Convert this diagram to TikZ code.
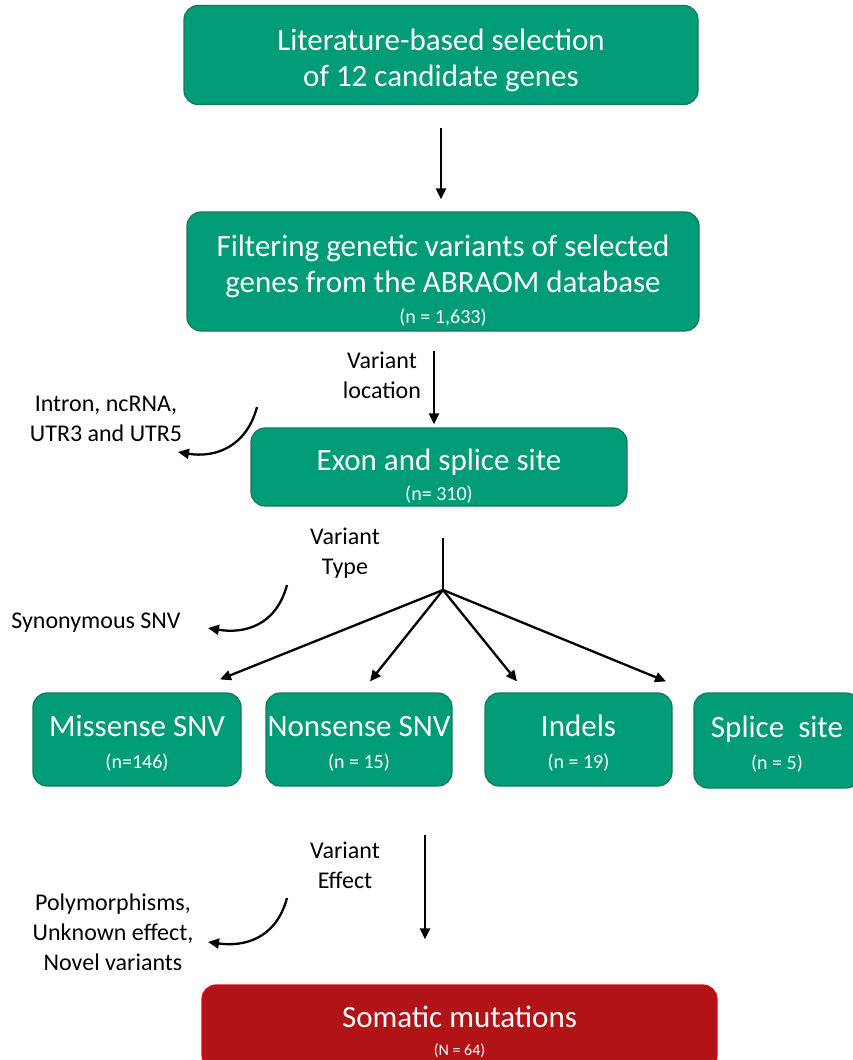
\documentclass[tikz,border=0pt]{standalone}
\usepackage{fontspec}
\setmainfont{Carlito}
\usetikzlibrary{arrows.meta}
\definecolor{stepgreen}{HTML}{009B77}
\definecolor{stepedge}{HTML}{17775C}
\definecolor{resultred}{HTML}{B21317}
\definecolor{resultedge}{HTML}{E30613}
\newcommand{\ncount}[1]{{\fontsize{20}{22}\selectfont #1}}
\newcommand{\Ncount}[1]{{\fontsize{16}{18}\selectfont #1}}
% strut on the first line, pushes the text down in its box
\newcommand{\lowered}[1]{\rule{0pt}{\dimexpr 24pt+2\dimexpr #1\relax\relax}}
\tikzset{
  stepbox/.style={rectangle, rounded corners=14pt, fill=stepgreen, draw=stepedge,
    line width=1.2pt, text=white, align=center, inner sep=0pt,
    font=\fontsize{31}{36}\selectfont},
  resultbox/.style={stepbox, fill=resultred, draw=resultedge},
  sidenote/.style={align=center, inner sep=0pt, font=\fontsize{24}{30}\selectfont},
  flow/.style={-{Triangle[length=11pt, width=10pt]}, line width=2.3pt},
}
\begin{document}
\begin{tikzpicture}[x=1pt, y=-1pt]
  \useasboundingbox (0,0) rectangle (853,1060);
  % main filtering steps
  \node[stepbox, minimum width=514pt, minimum height=99pt] (genes) at (441,55)
    {\lowered{4pt}Literature-based selection\\of 12 candidate genes};
  \node[stepbox, minimum width=512pt, minimum height=119pt] (abraom) at (443,271.5)
    {\lowered{8pt}Filtering genetic variants of selected\\genes from the ABRAOM database\\[-5pt]\ncount{(n = 1,633)}};
  \node[stepbox, minimum width=376pt, minimum height=78pt] (exon) at (439,467)
    {\lowered{8pt}Exon and splice site\\[-6pt]\ncount{(n= 310)}};
  % variant types
  \node[stepbox, minimum width=208pt, minimum height=93pt] (missense) at (137,739.5)
    {\lowered{2pt}Missense SNV\\[-4pt]\ncount{(n=146)}};
  \node[stepbox, minimum width=186pt, minimum height=93pt] (nonsense) at (359,739.5)
    {\lowered{2pt}Nonsense SNV\\[-4pt]\ncount{(n = 15)}};
  \node[stepbox, minimum width=187pt, minimum height=93pt] (indels) at (578.5,739.5)
    {\lowered{2pt}Indels\\[-4pt]\ncount{(n = 19)}};
  \node[stepbox, minimum width=166pt, minimum height=95pt] (splice) at (777,740.5)
    {\lowered{2pt}Splice~ site\\[-4pt]\ncount{(n = 5)}};
  % final result
  \node[resultbox, minimum width=515pt, minimum height=84pt] (somatic) at (459.5,1027)
    {\lowered{4pt}Somatic mutations\\[-8pt]\Ncount{(N = 64)}};
  % criteria and discarded variants
  \node[sidenote] (location) at (382,375) {Variant\\location};
  \node[sidenote] (intron) at (106,419) {Intron, ncRNA,\\UTR3 and UTR5};
  \node[sidenote] (type) at (345,553) {Variant\\Type};
  \node[sidenote] (synon) at (96,623) {Synonymous SNV};
  \node[sidenote] (effect) at (345,865) {Variant\\Effect};
  \node[sidenote] (polym) at (113,932) {Polymorphisms,\\Unknown effect,\\Novel variants};
  \coordinate (fork) at (443,590);
  \coordinate (introut) at (257,407);
  \coordinate (synout) at (287,585);
  \coordinate (polyout) at (287,898);
  % arrows
  \draw[flow] ([yshift=-23pt]genes.south) -- ([yshift=12pt]genes.south |- abraom.north);
  \draw[flow] ([xshift=-9pt, yshift=-19pt]abraom.south) -- ([xshift=-5pt, yshift=3pt]exon.north);
  \draw[line width=2.3pt] ([xshift=4pt, yshift=-31pt]exon.south) -- (fork);
  \draw[flow] (fork) -- ([xshift=83pt, yshift=13pt]missense.north);
  \draw[flow] (fork) -- ([xshift=11pt, yshift=11pt]nonsense.north);
  \draw[flow] (fork) -- ([xshift=-61.5pt, yshift=11pt]indels.north);
  \draw[flow] (fork) -- ([xshift=-111pt, yshift=11pt]splice.north);
  \draw[flow] ([xshift=-34.5pt, yshift=149pt]somatic.north) -- ([xshift=-34.5pt, yshift=45pt]somatic.north);
  \draw[flow] (introut) .. controls (246,448) and (214,458) .. ([xshift=72pt, yshift=-33pt]intron.center);
  \draw[flow] (synout) .. controls (276,626) and (244,634) .. ([xshift=112pt, yshift=-5pt]synon.center);
  \draw[flow] (polyout) .. controls (276,939) and (244,947) .. ([xshift=95pt, yshift=-10pt]polym.center);
\end{tikzpicture}
\end{document}
